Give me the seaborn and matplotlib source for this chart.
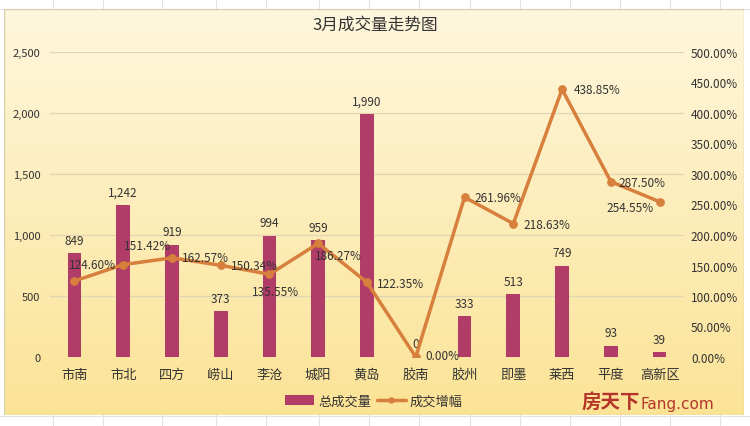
import numpy as np
import pandas as pd
import matplotlib
matplotlib.use("Agg")
import matplotlib.pyplot as plt
import seaborn as sns

# 数据
districts = ["市南", "市北", "四方", "崂山", "李沧", "城阳", "黄岛", "胶南", "胶州", "即墨", "莱西", "平度", "高新区"]
volume = [849, 1242, 919, 373, 994, 959, 1990, 0, 333, 513, 749, 93, 39]
growth = [124.60, 151.42, 162.57, 150.34, 135.55, 186.27, 122.35, 0.00, 261.96, 218.63, 438.85, 287.50, 254.55]
left_ticks = [0, 500, 1000, 1500, 2000, 2500]
right_ticks = [0, 50, 100, 150, 200, 250, 300, 350, 400, 450, 500]

# 折线标签的位置偏移(像素)
pct_offsets = [(18, 16), (24, 19), (34, 0), (34, 0), (6, -17), (20, -12), (33, -1),
               (27, 2), (33, 0), (34, -1), (35, 0), (31, -1), (-30, -6)]

sns.set_style("white")
plt.rcParams['font.family'] = ['Noto Sans CJK SC', 'DejaVu Sans']

bar_color = "#B23C68"
line_color = "#D7803D"
text_color = "#333333"

fig = plt.figure(figsize=(7.5, 4.27), dpi=100)
fig.patch.set_facecolor("white")

# 表格的网格线(背景)
for xp in [53, 103, 162, 216, 266, 319, 369, 419, 470, 520, 570, 620, 670, 720]:
    fig.add_artist(plt.Line2D([xp / 750, xp / 750], [0, 1], color="#E2E2E2", lw=0.8, zorder=0))
for yp in [417, 10]:
    fig.add_artist(plt.Line2D([0, 1], [1 - yp / 427, 1 - yp / 427], color="#E2E2E2", lw=0.8, zorder=0))

# 渐变背景
bg = fig.add_axes([4 / 750, 1 - 416 / 427, 740 / 750, 406 / 427], zorder=0.5)
top = np.array([255, 247, 222]) / 255
bottom = np.array([251, 227, 150]) / 255
t = np.linspace(0, 1, 256)[:, None]
grad = top[None, None, :] * (1 - t[..., None]) + bottom[None, None, :] * t[..., None]
grad = np.repeat(grad, 2, axis=1)
bg.imshow(grad, aspect="auto", extent=[0, 1, 0, 1])
bg.set_axis_off()
bg.add_patch(plt.Rectangle((0, 0), 1, 1, fill=False, edgecolor="#D9CFA8", lw=1.0, transform=bg.transAxes))

ax = fig.add_axes([50 / 750, 1 - 358 / 427, 634 / 750, 305 / 427], zorder=1)
ax.patch.set_alpha(0)

df = pd.DataFrame({"区域": districts, "总成交量": volume, "成交增幅": growth})

sns.barplot(data=df, x="区域", y="总成交量", color=bar_color, width=0.28,
            saturation=1, ax=ax, label="总成交量", linewidth=0, zorder=3)
ax.set_ylim(0, 2500)
ax.set_xlim(-0.5, len(districts) - 0.5)
ax.set_yticks(left_ticks)
ax.set_yticklabels([f"{v:,}" for v in left_ticks])
ax.yaxis.grid(True, color="#E0D6B4", lw=0.9, zorder=0)
ax.set_axisbelow(True)
ax.set_xlabel("")
ax.set_ylabel("")
ax.tick_params(axis="y", length=0, pad=7, labelsize=8, labelcolor=text_color)
ax.tick_params(axis="x", length=0, pad=8, labelsize=9.5, labelcolor=text_color)
for s in ax.spines.values():
    s.set_visible(False)

for i, v in enumerate(volume):
    ax.annotate(f"{v:,}", (i, v), xytext=(0, 13), textcoords="offset pixels",
                ha="center", va="center", fontsize=8.5, color=text_color)

ax2 = ax.twinx()
ax2.set_zorder(2)
ax2.patch.set_alpha(0)
sns.lineplot(x=np.arange(len(districts)), y=growth, ax=ax2, color=line_color, lw=2.5,
             marker="o", markersize=5.5, markeredgecolor=line_color, label="成交增幅")
ax2.set_ylim(0, 500)
ax2.set_yticks(right_ticks)
ax2.set_yticklabels([f"{v:.2f}%" for v in right_ticks])
ax2.tick_params(axis="y", length=0, pad=5, labelsize=8.5, labelcolor=text_color)
for s in ax2.spines.values():
    s.set_visible(False)

for i, v in enumerate(growth):
    dx, dy = pct_offsets[i]
    ax2.annotate(f"{v:.2f}%", (i, v), xytext=(dx, dy), textcoords="offset pixels",
                 ha="center", va="center", fontsize=8.5, color=text_color)

ax2.get_legend().remove()
if ax.get_legend() is not None:
    ax.get_legend().remove()
h1, l1 = ax.get_legend_handles_labels()
h2, l2 = ax2.get_legend_handles_labels()
fig.legend(h1 + h2, l1 + l2, loc="center", bbox_to_anchor=(374 / 750, 1 - 402 / 427),
           ncol=2, frameon=False, fontsize=9.5, handlelength=2.2, handletextpad=0.3,
           columnspacing=0.4, labelcolor=text_color, markerscale=0.7)

fig.text(375 / 750, 1 - 25 / 427, "3月成交量走势图", ha="center", va="center",
         fontsize=12, color=text_color)

# 水印
fig.text(640 / 750, 1 - 403 / 427, "房天下", ha="right", va="center", fontsize=14,
         fontweight="bold", color="#B5352A")
fig.text(641 / 750, 1 - 405 / 427, "Fang.com", ha="left", va="center", fontsize=11,
         color="#B5352A", family=["Liberation Sans Narrow", "DejaVu Sans"])

fig.savefig("out.png", dpi=100)
